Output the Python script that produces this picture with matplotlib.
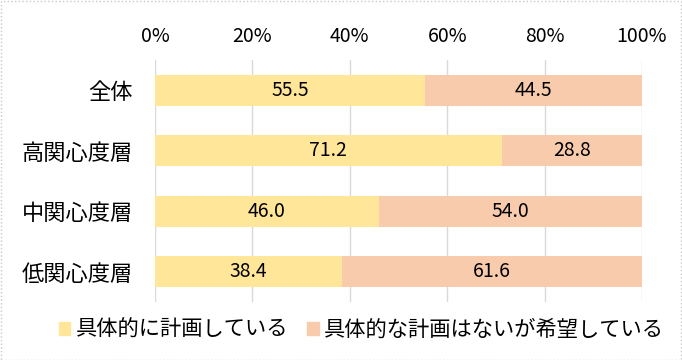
import numpy as np
import matplotlib
matplotlib.use('Agg')
from matplotlib import pyplot as plt
import matplotlib.patches as mpatches

plt.rcParams['font.family'] = ['Noto Sans CJK JP', 'DejaVu Sans']

categories = ['全体', '高関心度層', '中関心度層', '低関心度層']
planned = [55.5, 71.2, 46.0, 38.4]
hoped = [44.5, 28.8, 54.0, 61.6]
series_names = ['具体的に計画している', '具体的な計画はないが希望している']
colors = ['#FFE699', '#F8CBAD']

fig = plt.figure(figsize=(6.82, 3.6), dpi=100)
ax = fig.add_axes([155 / 682, 1 - 302 / 360, 487 / 682, 242 / 360])

y = np.arange(len(categories))
ax.barh(y, planned, height=0.51, color=colors[0], label=series_names[0], zorder=2)
ax.barh(y, hoped, left=planned, height=0.51, color=colors[1], label=series_names[1], zorder=2)

for i in range(len(categories)):
    ax.text(planned[i] / 2, y[i], f'{planned[i]:.1f}', ha='center', va='center',
            fontsize=14, color='black', zorder=3)
    ax.text(planned[i] + hoped[i] / 2, y[i], f'{hoped[i]:.1f}', ha='center', va='center',
            fontsize=14, color='black', zorder=3)

ax.set_xlim(0, 100)
ax.set_ylim(len(categories) - 0.5, -0.5)
ax.set_xticks([0, 20, 40, 60, 80, 100])
ax.set_xticklabels(['0%', '20%', '40%', '60%', '80%', '100%'])
ax.xaxis.tick_top()
ax.set_yticks(y)
ax.set_yticklabels(categories)
ax.tick_params(axis='x', length=0, labelsize=14, pad=9)
ax.tick_params(axis='y', length=0, labelsize=16, pad=16)
ax.grid(axis='x', color='#D9D9D9', linewidth=1, zorder=0)
ax.grid(axis='y', visible=False)
for s in ax.spines.values():
    s.set_visible(False)

handles = [mpatches.Patch(color=c) for c in colors]
fig.legend(handles, series_names, loc='center', bbox_to_anchor=(0.53, 1 - 330 / 360),
           ncol=2, frameon=False, fontsize=15.3, handlelength=0.55, handleheight=0.55,
           handletextpad=0.25, columnspacing=0.9)

fig.patches.append(mpatches.Rectangle((0.001, 0.001), 0.997, 0.996, transform=fig.transFigure,
                                      fill=False, edgecolor='#C8C8C8', linewidth=1, linestyle=':'))

fig.savefig('out.png', dpi=100)
